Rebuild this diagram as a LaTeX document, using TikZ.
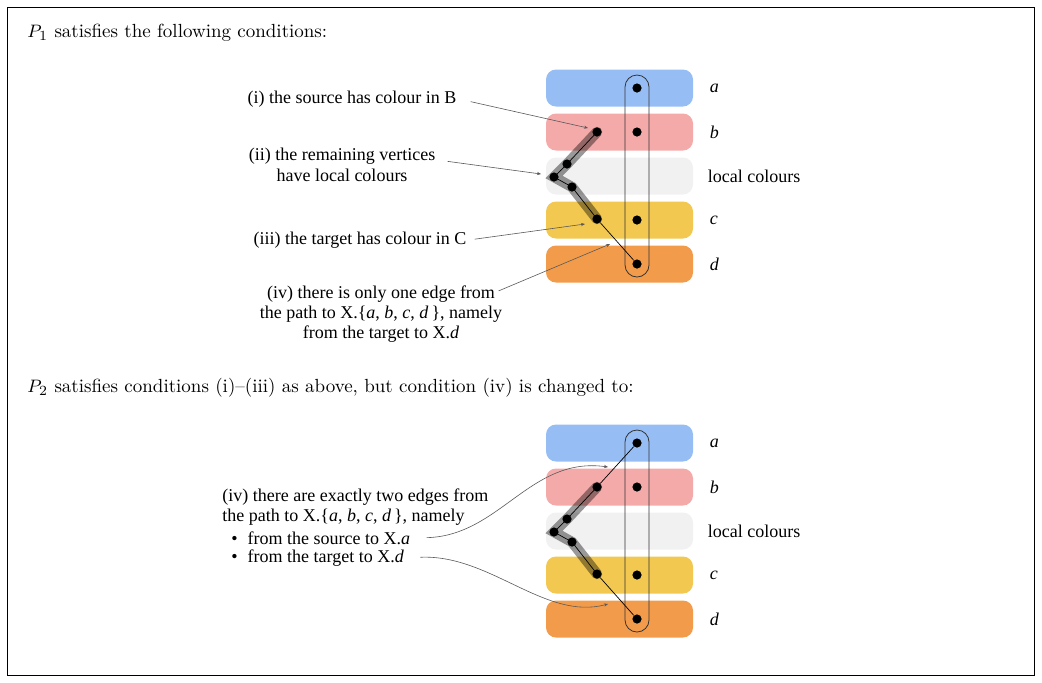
\documentclass[tikz,border=0pt]{standalone}
\usepackage{fontspec}
\newfontfamily\lblfont{Liberation Serif}
\usepackage{tikz}
\usetikzlibrary{positioning, arrows.meta}
\definecolor{colA}{RGB}{150,190,245}
\definecolor{colB}{RGB}{245,170,170}
\definecolor{colL}{RGB}{241,241,241}
\definecolor{colC}{RGB}{242,200,80}
\definecolor{colD}{RGB}{242,155,75}

\begin{document}
\begin{tikzpicture}[
    x=0.5pt, y=-0.5pt,
    every node/.style={font=\lblfont\fontsize{9}{10.2}\selectfont},
    bar/.style={rectangle, rounded corners=5pt, minimum width=73.5pt,
                minimum height=18.5pt, inner sep=0pt},
    group/.style={draw=black!80, line width=0.4pt, rounded corners=6pt,
                  minimum width=12pt, minimum height=101pt, inner sep=0pt},
    vtx/.style={circle, fill=black, inner sep=0pt, minimum size=4.6pt},
    barlbl/.style={anchor=west, inner sep=0pt},
    cond/.style={align=center, inner sep=1pt},
    bullet/.style={anchor=west, inner sep=0pt},
    heading/.style={font=\rmfamily\fontsize{9.5}{12}\selectfont, anchor=west, inner sep=0pt},
    callout/.style={draw=black!65, line width=0.3pt, -{Stealth[length=2pt, width=1.6pt]}},
    glow/.style={draw=black, opacity=0.4, line width=5.2pt, line join=miter, line cap=round},
    edge/.style={draw=black, line width=0.35pt}
]
\useasboundingbox (0,0) rectangle (1042,682);

% Frame
\draw[line width=0.5pt] (7,7) rectangle (1034,675);

% Headings
\node[heading] (h1) at (27,33) {$P_1$ satisfies the following conditions:};
\node[heading] (h2) at (27,388) {$P_2$ satisfies conditions (i)--(iii) as above, but condition (iv) is changed to:};

% Colour bars, the vertices of X and the path (both pictures)
\foreach \k/\dy in {1/0, 2/355}{
  \begin{scope}[shift={(0,\dy)}]
    \node[bar, fill=colA] (barA\k) at (619.5,88) {};
    \node[bar, fill=colB] (barB\k) at (619.5,132) {};
    \node[bar, fill=colL] (barL\k) at (619.5,176) {};
    \node[bar, fill=colC] (barC\k) at (619.5,220) {};
    \node[bar, fill=colD] (barD\k) at (619.5,264) {};

    \node[barlbl, right=8pt of barA\k] {\textit{a}};
    \node[barlbl, right=8pt of barB\k] {\textit{b}};
    \node[barlbl, right=7pt of barL\k] {local colours};
    \node[barlbl, right=8pt of barC\k] {\textit{c}};
    \node[barlbl, right=8pt of barD\k] {\textit{d}};

    \node[group] (grp\k) at (637,176) {};

    \coordinate (p1\k) at (597,132);
    \coordinate (p2\k) at (567,164);
    \coordinate (p3\k) at (554,177);
    \coordinate (p4\k) at (572,187);
    \coordinate (p5\k) at (597,219);
    \draw[glow] (p1\k) -- (p2\k) -- (p3\k) -- (p4\k) -- (p5\k);
    \draw[edge] (p1\k) -- (p2\k) -- (p3\k) -- (p4\k) -- (p5\k);

    \node[vtx] (xa\k) at (637,88) {};
    \node[vtx] (xb\k) at (637,132) {};
    \node[vtx] (xc\k) at (637,220) {};
    \node[vtx] (xd\k) at (637,264) {};
    \foreach \i in {1,...,5}
      \node[vtx] (v\i\k) at (p\i\k) {};

    \draw[edge] (v5\k) -- (xd\k);
  \end{scope}
}
\draw[edge] (v12) -- (xa2);

% Conditions of P1
\node[cond] (t1) at (352,99) {(i) the source has colour in B};
\node[cond] (t2) at (342,165) {(ii) the remaining vertices\\have local colours};
\node[cond] (t3) at (360,240) {(iii) the target has colour in C};
\node[cond] (t4) at (381,314) {(iv) there is only one edge from\\the path to X.\{\textit{a}, \textit{b}, \textit{c}, \textit{d}\,\}, namely\\from the target to X.\textit{d}};

\coordinate (e1) at (588,128);
\coordinate (e2) at (541,174);
\coordinate (e3) at (585,224);
\coordinate (e4) at (610,244);
\draw[callout, shorten <=6pt] (t1.east) -- (e1);
\draw[callout, shorten <=5pt] ([yshift=2.5pt]t2.east) -- (e2);
\draw[callout, shorten <=3pt] (t3.east) -- (e3);
\draw[callout] ([xshift=-3pt, yshift=-4pt]t4.north east) -- (e4);

% Condition (iv) of P2
\node[cond, anchor=west, align=left] (t5) at (220,507) {(iv) there are exactly two edges from\\the path to X.\{\textit{a}, \textit{b}, \textit{c}, \textit{d}\,\}, namely};
\node[bullet] (s1) at (231,538) {\textbullet\hspace{5pt}from the source to X.\textit{a}};
\node[bullet] (s2) at (231,558) {\textbullet\hspace{5pt}from the target to X.\textit{d}};

\coordinate (ea) at (608,467);
\coordinate (ed) at (608,604);
\draw[callout, shorten <=8pt] (s1.east) .. controls (500,536) and (530,456) .. (ea);
\draw[callout, shorten <=8pt] (s2.east) .. controls (490,554) and (545,621) .. (ed);

\end{tikzpicture}
\end{document}
